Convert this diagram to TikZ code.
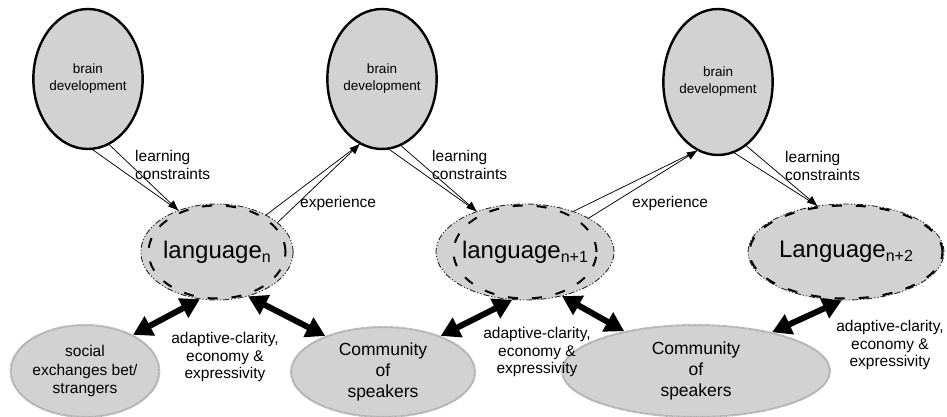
\documentclass[tikz,border=0pt]{standalone}
\usepackage{fontspec}
\setmainfont{Liberation Sans}
\usetikzlibrary{shapes.geometric,arrows.meta}
\newcommand\sbs[1]{\raisebox{-0.32ex}{\fontsize{16}{16}\selectfont #1}}
\begin{document}
\begin{tikzpicture}[x=1pt,y=-1pt,
  brainbox/.style={ellipse,draw=black,line width=2.4pt,fill=gray!35,inner sep=0pt,align=center,font=\fontsize{13.5}{17}\selectfont},
  langbox/.style={ellipse,draw=black!85,line width=0.9pt,dash pattern=on 6pt off 2pt on 1.2pt off 2pt on 1.2pt off 2pt,fill=gray!35,inner sep=0pt,font=\fontsize{24}{28}\selectfont},
  langdash/.style={draw=black,line width=2pt,dash pattern=on 10pt off 14pt},
  commbox/.style={ellipse,draw=gray!65,line width=2pt,dash pattern=on 0.7pt off 0.5pt,fill=gray!35,inner sep=0pt,align=center,font=\fontsize{17.5}{21}\selectfont},
  lbl/.style={align=left,inner sep=0pt,font=\fontsize{15.5}{17.5}\selectfont},
  conn/.style={line width=0.75pt},
  tip/.style={conn,-{Triangle[length=10pt,width=8pt]}},
  bigarrow/.style={line width=6pt,{Triangle[length=19pt,width=21pt]}-{Triangle[length=19pt,width=21pt]}}
]
\useasboundingbox (0,0) rectangle (947,417);

% brain development nodes
\node[brainbox,minimum width=90pt,minimum height=140pt] (bA) at (88,79) {brain\\development};
\node[brainbox,minimum width=96pt,minimum height=140pt] (bB) at (382,79) {brain\\development};
\node[brainbox,minimum width=96pt,minimum height=146pt] (bC) at (718,82) {brain\\development};

% language nodes
\node[langbox,minimum width=140pt,minimum height=96pt] (lA) at (217,252) {language\sbs{n}};
\node[langbox,minimum width=146pt,minimum height=96pt] (lB) at (525,252) {language\sbs{n+1}};
\node[langbox,minimum width=196pt,minimum height=96pt] (lC) at (846,252) {Language\sbs{n+2}};
\draw[langdash] (lA.center) ellipse [x radius=68.5pt, y radius=46.5pt];
\draw[langdash] (lB.center) ellipse [x radius=71.5pt, y radius=46.5pt];
\draw[langdash] (lC.center) ellipse [x radius=96.5pt, y radius=46.5pt];

% community nodes
\node[commbox,minimum width=144pt,minimum height=92pt,font=\fontsize{15.5}{18.5}\selectfont] (sA) at (85,371) {social\\exchanges bet/\\strangers};
\node[commbox,minimum width=184pt,minimum height=90pt] (cA) at (383,372) {Community\\of\\speakers};
\node[commbox,minimum width=268pt,minimum height=92pt] (cB) at (696,371) {Community\\of\\speakers};

% learning constraints (double thin arrows)
\draw[conn] (bA.-86) -- (lA.133);
\draw[tip] (bA.-72) -- (lA.133);
\draw[conn] (bB.-84) -- (lB.140);
\draw[tip] (bB.-74) -- (lB.140);
\draw[conn] (bC.-77) -- (lC.122);
\draw[tip] (bC.-66) -- (lC.122);

% experience arrows
\draw[conn] (lA.37) -- (bB.-109);
\draw[tip] (lA.26) -- (bB.-109);
\draw[conn] (lB.40) -- (bC.-107);
\draw[tip] (lB.28) -- (bC.-107);

% thick two-way arrows
\draw[bigarrow] (lA.-110) -- (sA.37);
\draw[bigarrow] (lA.-55) -- (cA.148);
\draw[bigarrow] (lB.-105) -- (cA.32);
\draw[bigarrow] (lB.-50) -- (cB.151);
\draw[bigarrow] (lC.-95) -- (cB.27);

% labels
\node[lbl,anchor=west] (tLA) at (135,165) {learning\\constraints};
\node[lbl,anchor=west] (tLB) at (432,165) {learning\\constraints};
\node[lbl,anchor=west] (tLC) at (785,166) {learning\\constraints};
\node[lbl,anchor=west] (tEA) at (300,203) {experience};
\node[lbl,anchor=west] (tEB) at (632,203) {experience};
\node[lbl,align=center] (tAA) at (225,357) {adaptive-clarity,\\economy \&\\expressivity};
\node[lbl,align=center] (tAB) at (537,352) {adaptive-clarity,\\economy \&\\expressivity};
\node[lbl,align=center] (tAC) at (890,345) {adaptive-clarity,\\economy \&\\expressivity};
\end{tikzpicture}
\end{document}
